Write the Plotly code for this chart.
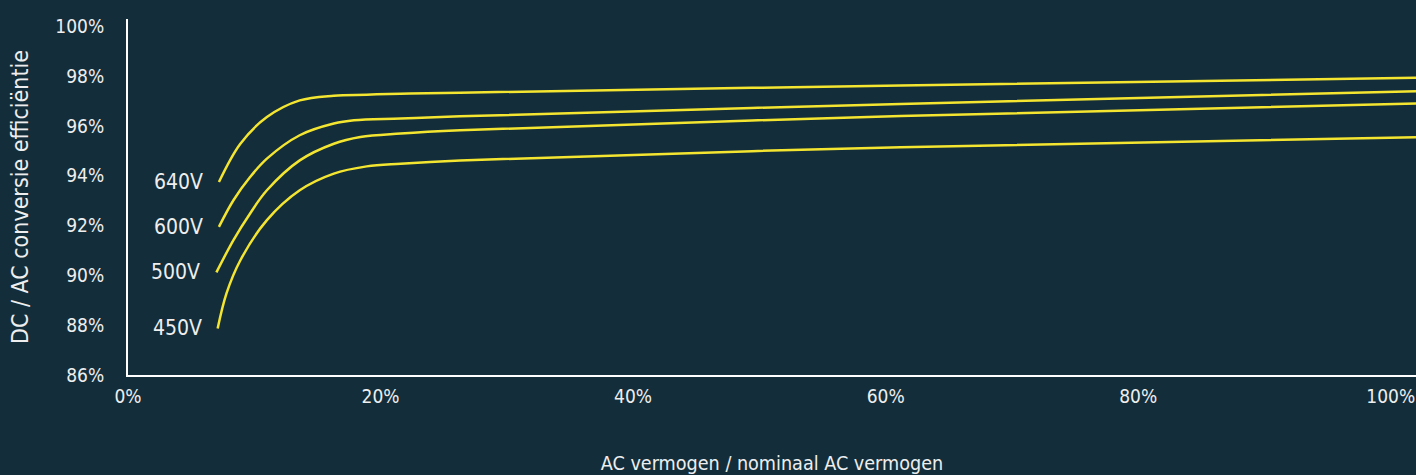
import plotly.graph_objects as go

# Data (x: AC power / nominal AC power in %, y: efficiency in %)
series_names = ["640V", "600V", "500V", "450V"]

x_640 = [7.2, 8.9, 11.0, 13.6, 16.3, 18.9, 21.6, 26.3, 61.2, 102]
y_640 = [93.75, 95.29, 96.36, 97.03, 97.22, 97.26, 97.30, 97.34, 97.63, 97.94]

x_600 = [7.2, 8.35, 9.67, 11.0, 13.6, 16.3, 17.9, 21.6, 26.3, 61.2, 102]
y_600 = [91.95, 93.02, 93.95, 94.69, 95.63, 96.10, 96.23, 96.30, 96.39, 96.89, 97.40]

x_500 = [7.0, 8.35, 9.67, 11.0, 13.6, 16.3, 18.4, 21.6, 26.3, 61.2, 102]
y_500 = [90.12, 91.42, 92.49, 93.42, 94.62, 95.29, 95.56, 95.70, 95.83, 96.40, 96.91]

x_450 = [7.1, 7.8, 8.9, 11.0, 13.6, 16.3, 18.9, 21.6, 26.3, 61.2, 102]
y_450 = [87.87, 89.28, 90.61, 92.22, 93.42, 94.09, 94.38, 94.49, 94.62, 95.15, 95.55]

x_tickvals = [0, 20, 40, 60, 80, 100]
x_ticktext = ["0%", "20%", "40%", "60%", "80%", "100%"]
y_tickvals = [86, 88, 90, 92, 94, 96, 98, 100]
y_ticktext = ["86%", "88%", "90%", "92%", "94%", "96%", "98%", "100%"]

BG = "#132d3a"
LINE = "#f4e531"
TXT = "#eeeeee"
FONT = "DejaVu Sans Condensed, DejaVu Sans"

xs = [x_640, x_600, x_500, x_450]
ys = [y_640, y_600, y_500, y_450]

fig = go.Figure()
for name, x, y in zip(series_names, xs, ys):
    fig.add_trace(go.Scatter(
        x=x, y=y, mode="lines", name=name,
        line=dict(color=LINE, width=2.5, shape="spline", smoothing=1.0),
        hoverinfo="skip", showlegend=False,
    ))
    fig.add_annotation(
        x=x[0], y=y[0], text=name, showarrow=False,
        xanchor="right", yanchor="middle", xshift=-14,
        font=dict(family=FONT, size=21, color=TXT),
    )

fig.update_layout(
    width=1416, height=475,
    paper_bgcolor=BG, plot_bgcolor=BG,
    margin=dict(l=128, r=0, t=19, b=100),
    font=dict(family=FONT, size=19, color=TXT),
    xaxis=dict(
        range=[0, 102], tickvals=x_tickvals, ticktext=x_ticktext,
        showgrid=False, zeroline=False,
        showline=True, linecolor="#ffffff", linewidth=2,
        ticks="", ticklabelstandoff=3,
        title=dict(text="AC vermogen / nominaal AC vermogen", standoff=50,
                   font=dict(family=FONT, size=19.6, color=TXT)),
    ),
    yaxis=dict(
        range=[86, 100.3], tickvals=y_tickvals, ticktext=y_ticktext,
        showgrid=False, zeroline=False,
        showline=True, linecolor="#ffffff", linewidth=2,
        ticks="", ticklabelstandoff=18,
        title=dict(text="DC / AC conversie efficiëntie", standoff=20,
                   font=dict(family=FONT, size=23, color=TXT)),
    ),
)

fig.write_html(
    "out.html",
    config={"displayModeBar": False},
    post_script="document.body.style.margin='0';document.body.style.background='#132d3a';",
)
